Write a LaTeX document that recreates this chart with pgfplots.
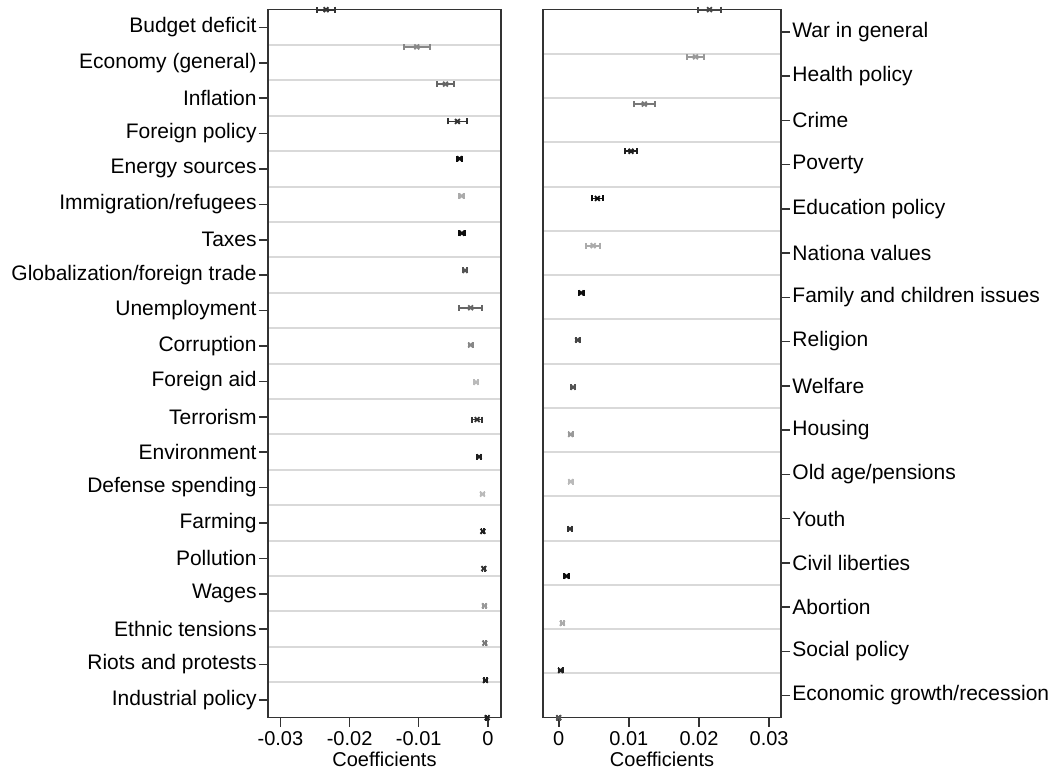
\documentclass[border=0pt]{standalone}
\usepackage{fontspec}
\setmainfont{Liberation Sans}
\usepackage{pgfplots}
\pgfplotsset{compat=1.18}
\newcommand\pt[4]{\addplot[color=#1, mark=x, mark size=1.7pt, line width=0.9pt, only marks,
  error bars/.cd, x dir=both, x explicit, error mark=|, error mark options={line width=0.9pt, mark size=1.5pt},
  error bar style={line width=0.9pt}] coordinates {(#2,#4) +- (#3,0)};}
\pgfplotsset{
  coefstyle/.style={
    scale only axis, height=354pt,
    ymin=0, ymax=1, clip=false,
    scaled x ticks=false,
    axis line style={draw=black!80, line width=0.75pt},
    tick style={draw=black!80, line width=0.75pt},
    tick align=outside, major tick length=4.5pt, minor tick length=0pt,
    xtick pos=bottom,
    minor grid style={draw=black!15, line width=1pt},
    yminorgrids=true,
    major grid style={draw=none},
    tick label style={font=\fontsize{10}{12}\selectfont},
    yticklabel style={font=\fontsize{10.5}{12.5}\selectfont, inner sep=1pt},
    xticklabel style={yshift=1pt},
    xlabel={Coefficients},
    xlabel style={font=\fontsize{10}{12}\selectfont, yshift=4pt},
  }
}
\begin{document}
\begin{tikzpicture}
\path (-134pt,-27.5pt) rectangle (397.5pt,357.5pt);
\begin{axis}[coefstyle, at={(0,0)}, anchor=south west, width=116.5pt,
  xmin=-0.0318, xmax=0.0019,
  xtick={-0.03,-0.02,-0.01,0}, xticklabels={-0.03,-0.02,-0.01,0},
  ytick pos=left,
  ytick={0.025,0.075,0.125,0.175,0.225,0.275,0.325,0.375,0.425,0.475,0.525,0.575,0.625,0.675,0.725,0.775,0.825,0.875,0.925,0.975},
  yticklabels={Industrial policy,Riots and protests,Ethnic tensions,Wages,Pollution,Farming,Defense spending,Environment,Terrorism,Foreign aid,Corruption,Unemployment,Globalization/foreign trade,Taxes,Immigration/refugees,Energy sources,Foreign policy,Inflation,Economy (general),Budget deficit},
  minor ytick={0.05,0.1,0.15,0.2,0.25,0.3,0.35,0.4,0.45,0.5,0.55,0.6,0.65,0.7,0.75,0.8,0.85,0.9,0.95},
]
\pt{black!80}{-0.0234}{0.0013}{1}
\pt{black!47}{-0.01028}{0.0019}{0.94737}
\pt{black!60}{-0.00613}{0.00125}{0.89474}
\pt{black!80}{-0.0044}{0.00135}{0.84211}
\pt{black!95}{-0.0041}{0.0004}{0.78947}
\pt{black!33}{-0.0038}{0.0004}{0.73684}
\pt{black!95}{-0.00376}{0.0004}{0.68421}
\pt{black!67}{-0.0033}{0.0003}{0.63158}
\pt{black!60}{-0.0025}{0.0017}{0.57895}
\pt{black!47}{-0.0025}{0.0003}{0.52632}
\pt{black!27}{-0.0017}{0.0003}{0.47368}
\pt{black!80}{-0.00155}{0.0007}{0.42105}
\pt{black!88}{-0.00126}{0.0003}{0.36842}
\pt{black!27}{-0.00078}{0.0003}{0.31579}
\pt{black!88}{-0.00072}{0.0002}{0.26316}
\pt{black!80}{-0.00058}{0.0002}{0.21053}
\pt{black!40}{-0.0005}{0.0002}{0.15789}
\pt{black!53}{-0.00044}{0.0002}{0.10526}
\pt{black!88}{-0.00035}{0.0002}{0.05263}
\pt{black!88}{-0.0001}{0.0002}{0}
\end{axis}
\begin{axis}[coefstyle, at={(137.5pt,0)}, anchor=south west, width=119pt,
  xmin=-0.00225, xmax=0.0317,
  xtick={0,0.01,0.02,0.03}, xticklabels={0,0.01,0.02,0.03},
  ytick pos=right, yticklabel pos=right,
  ytick={0.03125,0.09375,0.15625,0.21875,0.28125,0.34375,0.40625,0.46875,0.53125,0.59375,0.65625,0.71875,0.78125,0.84375,0.90625,0.96875},
  yticklabels={Economic growth/recession,Social policy,Abortion,Civil liberties,Youth,Old age/pensions,Housing,Welfare,Religion,Family and children issues,Nationa values,Education policy,Poverty,Crime,Health policy,War in general},
  minor ytick={0.0625,0.125,0.1875,0.25,0.3125,0.375,0.4375,0.5,0.5625,0.625,0.6875,0.75,0.8125,0.875,0.9375},
]
\pt{black!73}{0.0215}{0.0016}{1}
\pt{black!40}{0.0195}{0.0012}{0.93333}
\pt{black!53}{0.0122}{0.0015}{0.86667}
\pt{black!88}{0.0103}{0.0009}{0.8}
\pt{black!95}{0.0055}{0.0008}{0.73333}
\pt{black!33}{0.0049}{0.001}{0.66667}
\pt{black!95}{0.0032}{0.0004}{0.6}
\pt{black!73}{0.0027}{0.0003}{0.53333}
\pt{black!67}{0.00205}{0.0003}{0.46667}
\pt{black!40}{0.0017}{0.0003}{0.4}
\pt{black!27}{0.0017}{0.0003}{0.33333}
\pt{black!80}{0.0016}{0.0003}{0.26667}
\pt{black!95}{0.0011}{0.0004}{0.2}
\pt{black!33}{0.0005}{0.0002}{0.13333}
\pt{black!88}{0.00025}{0.0003}{0.06667}
\pt{black!67}{0.0}{0.0002}{0}
\end{axis}
\end{tikzpicture}
\end{document}
